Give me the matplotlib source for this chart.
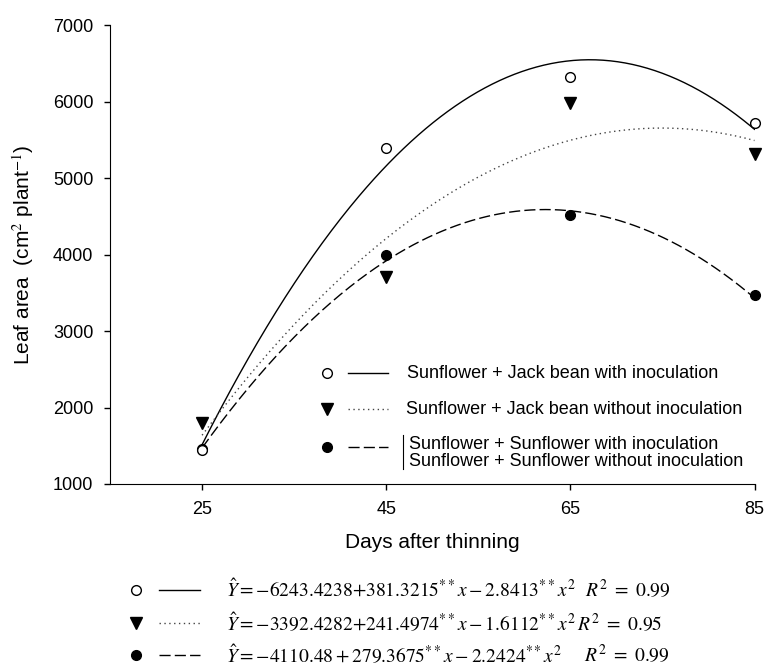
import numpy as np
import matplotlib
matplotlib.use("Agg")
import matplotlib.pyplot as plt
from matplotlib.lines import Line2D

plt.rcParams['font.family'] = ['Liberation Sans', 'DejaVu Sans']
plt.rcParams['mathtext.fontset'] = 'stix'

# observed values
days = [25, 45, 65, 85]
jack_inoc = [1450, 5390, 6330, 5725]
jack_no_inoc = [1795, 3705, 5980, 5315]
sun = [1460, 3995, 4525, 3470]

# fitted quadratics (a + b*x + c*x^2), taken from the equations under the chart
coef_jack_inoc = [-6243.4238, 381.3215, -2.8413]
coef_jack_no_inoc = [-3392.4282, 241.4974, -1.6112]
coef_sun = [-4110.48, 279.3675, -2.2424]

legend_labels = ["Sunflower + Jack bean with inoculation",
                 "Sunflower + Jack bean without inoculation",
                 "Sunflower + Sunflower with inoculation\nSunflower + Sunflower without inoculation"]
equations = [r"$\hat{Y}=-6243.4238{+}381.3215^{**}x-2.8413^{**}x^{2}$",
             r"$\hat{Y}=-3392.4282{+}241.4974^{**}x-1.6112^{**}x^{2}\,R^{2}\ =\ 0.95$",
             r"$\hat{Y}=-4110.48+279.3675^{**}x-2.2424^{**}x^{2}$"]
r2_labels = [r"$R^{2}\ =\ 0.99$", "", r"$R^{2}\ =\ 0.99$"]

W, H = 765, 668
fig = plt.figure(figsize=(W / 100, H / 100), dpi=100)
ax = fig.add_axes([110 / W, 1 - 484 / H, (754.5 - 110) / W, (484 - 25.4) / H])


def quad(c, x):
    return c[0] + c[1] * x + c[2] * x ** 2


xf = np.linspace(25, 85, 300)
solid = dict(color='black', lw=1.0, ls='-')
dotted = dict(color='#444444', lw=1.0, ls=(0, (1, 2.5)))
dashed = dict(color='black', lw=1.0, ls=(0, (8, 3)))

ax.plot(xf, quad(coef_jack_inoc, xf), **solid)
ax.plot(xf, quad(coef_jack_no_inoc, xf), **dotted)
ax.plot(xf, quad(coef_sun, xf), **dashed)

m_open = dict(marker='o', ms=7, mfc='white', mec='black', mew=1, ls='none')
m_tri = dict(marker='v', ms=8, mfc='black', mec='black', ls='none')
m_dot = dict(marker='o', ms=7, mfc='black', mec='black', ls='none')

ax.plot(days, sun, clip_on=False, zorder=3, **m_dot)
ax.plot(days, jack_no_inoc, clip_on=False, zorder=3, **m_tri)
ax.plot(days, jack_inoc, clip_on=False, zorder=4, **m_open)

ax.set_xlim(15, 85)
ax.set_ylim(1000, 7000)
ax.set_xticks(days)
ax.set_yticks(range(1000, 7001, 1000))
ax.tick_params(direction='out', length=4, width=1, labelsize=13, pad=8)
for s in ['top', 'right']:
    ax.spines[s].set_visible(False)
ax.set_xlabel("Days after thinning", fontsize=15, labelpad=11)
ax.set_ylabel(r"Leaf area  (cm$^{2}$ plant$^{-1}$)", fontsize=15, labelpad=12)


def fx(x):
    return x / W


def fy(y):
    return 1 - y / H


def fig_line(x0, x1, y, style):
    fig.add_artist(Line2D([fx(x0), fx(x1)], [fy(y), fy(y)], transform=fig.transFigure, **style))


def fig_marker(x, y, style):
    fig.add_artist(Line2D([fx(x)], [fy(y)], transform=fig.transFigure, **style))


# legend inside the plot
styles = [solid, dotted, dashed]
marks = [m_open, m_tri, m_dot]
leg_y = [373, 409, 447]
for i in range(3):
    fig_marker(327, leg_y[i], marks[i])
    fig_line(348, 388, leg_y[i], styles[i])
fig.text(fx(407), fy(leg_y[0]), legend_labels[0], fontsize=13, va='center')
fig.text(fx(406), fy(leg_y[1]), legend_labels[1], fontsize=13, va='center')
fig.text(fx(409), fy(453), legend_labels[2], fontsize=13, va='center', linespacing=1.0)
fig.add_artist(Line2D([fx(403), fx(403)], [fy(435), fy(469)], transform=fig.transFigure, color='black', lw=0.8))

# equations under the chart
eq_y = [590, 623, 655]
for i in range(3):
    fig_marker(136, eq_y[i], marks[i])
    fig_line(159, 200, eq_y[i], styles[i])
    fig.text(fx(226), fy(eq_y[i]), equations[i], fontsize=14, va='center')
r2_x = [585, 0, 584]
for i in [0, 2]:
    fig.text(fx(r2_x[i]), fy(eq_y[i]), r2_labels[i], fontsize=14, va='center')

fig.savefig("out.png", dpi=100)
